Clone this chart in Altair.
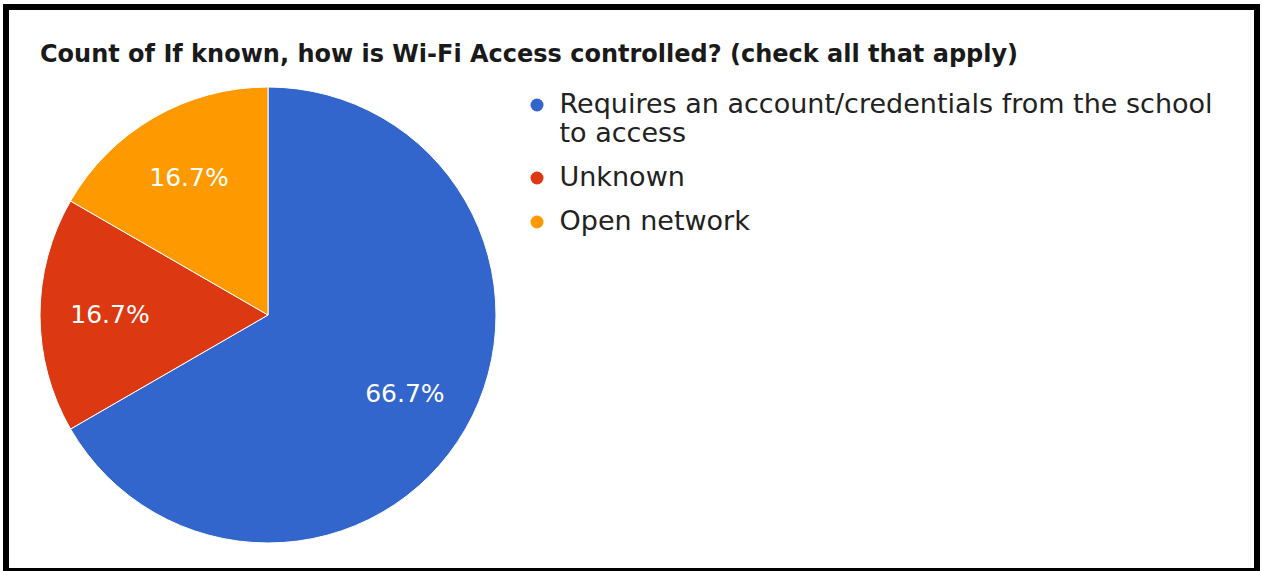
import altair as alt
import pandas as pd

categories = [
    "Requires an account/credentials from the school to access",
    "Unknown",
    "Open network",
]
counts = [4, 1, 1]
order_idx = [0, 1, 2]
colors = ["#3366cc", "#dc3912", "#ff9900"]
title_text = "Count of If known, how is Wi-Fi Access controlled? (check all that apply)"

df = pd.DataFrame({"category": categories, "count": counts, "idx": order_idx})

W, H = 1251, 564
CX, CY = 262, 308

label_expr = (
    "datum.label == 'Requires an account/credentials from the school to access'"
    " ? ['Requires an account/credentials from the school', 'to access'] : datum.label"
)

base = alt.Chart(df).transform_joinaggregate(
    total="sum(count)"
).transform_calculate(
    pct="datum.count / datum.total"
).encode(
    theta=alt.Theta("count:Q", stack=True),
    order=alt.Order("idx:Q", sort="ascending"),
)

pie = base.mark_arc(outerRadius=228, x=CX, y=CY, stroke="white", strokeWidth=1).encode(
    color=alt.Color(
        "category:N",
        scale=alt.Scale(domain=categories, range=colors),
        legend=alt.Legend(
            title=None,
            orient="none",
            legendX=517.5,
            legendY=84.5,
            symbolType="circle",
            symbolSize=169,
            symbolStrokeWidth=0,
            symbolOffset=0,
            padding=0,
            labelOffset=9,
            labelFont="DejaVu Sans",
            labelFontSize=27,
            labelColor="#222222",
            labelLimit=1000,
            labelExpr=label_expr,
            rowPadding=16,
        ),
    )
)

labels = base.mark_text(
    radius=158, x=CX, y=CY, font="DejaVu Sans", fontSize=25, color="white",
    align="center", baseline="middle",
).encode(text=alt.Text("pct:Q", format=".1%"))

title = alt.Chart(pd.DataFrame({"t": [title_text]})).mark_text(
    font="DejaVu Sans", fontSize=24, fontWeight="bold", color="#1a1a1a",
    align="left", baseline="alphabetic",
).encode(text="t:N", x=alt.value(34), y=alt.value(55))

chart = alt.layer(pie, labels, title).properties(
    width=W,
    height=H,
    padding={"left": 6, "top": 7, "right": 6, "bottom": 0},
    autosize=alt.AutoSizeParams(type="none"),
    background="white",
).configure_view(
    stroke="black", strokeWidth=6
)

chart.save("out.html", embed_options={"renderer": "svg", "actions": False})
